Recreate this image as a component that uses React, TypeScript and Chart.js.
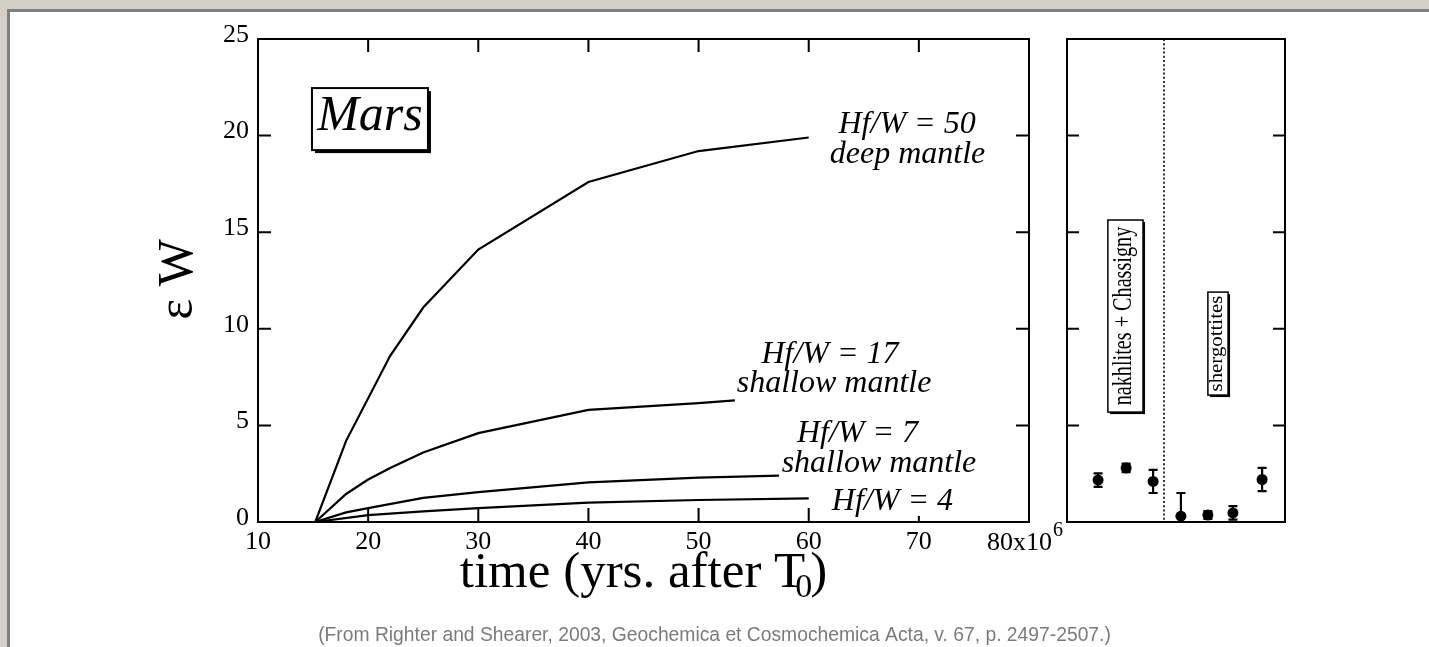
import React, { useEffect, useRef } from 'react';
import { Chart, registerables } from 'chart.js';

Chart.register(...registerables);

const W = 1429;
const H = 647;
const INK = '#000';
const SERIF = '"Liberation Serif", "Times New Roman", Times, serif';
const SANS = '"Liberation Sans", Arial, Helvetica, sans-serif';

// ---------------- main panel data ----------------
const timeTicks = [10, 20, 30, 40, 50, 60, 70, 80];
const epsTicks = [0, 5, 10, 15, 20, 25];

const hf50Time = [15.2, 18, 22, 25, 30, 40, 50, 60];
const hf50Eps = [0, 4.2, 8.6, 11.1, 14.1, 17.6, 19.2, 19.9];

const hf17Time = [15.2, 18, 20, 22, 25, 30, 40, 50, 53.3];
const hf17Eps = [0, 1.45, 2.2, 2.8, 3.6, 4.6, 5.8, 6.15, 6.3];

const hf7Time = [15.2, 18, 20, 25, 30, 40, 50, 57.3];
const hf7Eps = [0, 0.5, 0.72, 1.25, 1.55, 2.05, 2.3, 2.4];

const hf4Time = [15.2, 20, 25, 30, 40, 50, 60];
const hf4Eps = [0, 0.36, 0.55, 0.72, 1.0, 1.14, 1.22];

const curveLabelTexts = ['Hf/W = 50', 'deep mantle', 'Hf/W = 17', 'shallow mantle', 'Hf/W = 7', 'shallow mantle', 'Hf/W = 4'];
const planetName = 'Mars';
const footerText = '(From Righter and Shearer, 2003, Geochemica et Cosmochemica Acta, v. 67, p. 2497-2507.)';

// ---------------- right panel data ----------------
const meteoriteSlot = [1.14, 2.17, 3.16, 4.18, 5.17, 6.09, 7.16];
const meteoriteEps = [2.17, 2.8, 2.1, 0.3, 0.36, 0.47, 2.2];
const meteoriteErr = [0.35, 0.22, 0.6, 1.2, 0.2, 0.35, 0.6];
const groupDivider = 3.56;
const groupNames = ['nakhlites + Chassigny', 'shergottites'];

// ---------------- layout (annotation placement, in data units) ----------------
const curveLabelPos = [
  { x: 68.93, y: 20.13, bg: false },
  { x: 68.97, y: 18.58, bg: false },
  { x: 61.93, y: 8.23, bg: false },
  { x: 62.3, y: 6.73, bg: false },
  { x: 64.43, y: 4.14, bg: false },
  { x: 66.38, y: 2.59, bg: false },
  { x: 67.6, y: 0.62, bg: true },
];
const marsBox = { x1: 14.9, x2: 25.43, yTop: 22.46, yBottom: 19.25, baseline: 20.29 };
const groupBoxes = [
  { x1: 1.5, x2: 2.79, yTop: 15.63, yBottom: 5.69, font: 28 },
  { x1: 5.17, x2: 5.91, yTop: 11.9, yBottom: 6.57, font: 19 },
];

function shadowBox(ctx: CanvasRenderingContext2D, l: number, t: number, r: number, b: number, lw: number, sh: number) {
  ctx.save();
  ctx.fillStyle = '#fff';
  ctx.fillRect(l, t, r - l, b - t);
  ctx.strokeStyle = INK;
  ctx.lineWidth = lw;
  ctx.strokeRect(l, t, r - l, b - t);
  ctx.fillStyle = INK;
  ctx.fillRect(l + sh, b, r - l, sh);
  ctx.fillRect(r, t + sh, sh, b - t);
  ctx.restore();
}

const mainDecor = {
  id: 'mainDecor',
  afterDraw(chart: any) {
    const { ctx, chartArea: a } = chart;
    const xs = chart.scales.x;
    const ys = chart.scales.y;
    ctx.save();
    ctx.strokeStyle = INK;
    ctx.lineWidth = 2;
    ctx.strokeRect(a.left, a.top, a.right - a.left, a.bottom - a.top);
    ctx.beginPath();
    for (const v of epsTicks) {
      if (v <= 0 || v >= 25) continue;
      const py = ys.getPixelForValue(v);
      ctx.moveTo(a.left, py);
      ctx.lineTo(a.left + 13, py);
      ctx.moveTo(a.right, py);
      ctx.lineTo(a.right - 13, py);
    }
    for (const v of timeTicks) {
      if (v <= 10 || v >= 80) continue;
      const px = xs.getPixelForValue(v);
      ctx.moveTo(px, a.bottom);
      ctx.lineTo(px, a.bottom - 14);
      ctx.moveTo(px, a.top);
      ctx.lineTo(px, a.top + 13);
    }
    ctx.stroke();

    // 80x10^6 label
    const p80 = xs.getPixelForValue(80);
    ctx.fillStyle = INK;
    ctx.textBaseline = 'alphabetic';
    ctx.font = `26px ${SERIF}`;
    ctx.textAlign = 'right';
    ctx.fillText('80x10', p80 + 23, a.bottom + 28);
    ctx.font = `20px ${SERIF}`;
    ctx.textAlign = 'left';
    ctx.fillText('6', p80 + 24, a.bottom + 14);

    // curve labels
    ctx.font = `italic 32px ${SERIF}`;
    ctx.textAlign = 'center';
    curveLabelTexts.forEach((t, i) => {
      const p = curveLabelPos[i];
      const px = xs.getPixelForValue(p.x);
      const py = ys.getPixelForValue(p.y);
      if (p.bg) {
        const w = ctx.measureText(t).width;
        ctx.fillStyle = '#fff';
        ctx.fillRect(px - w / 2 - 2, py - 24, w + 4, 30);
        ctx.fillStyle = INK;
      }
      ctx.fillText(t, px, py);
    });

    // Mars box
    const l = xs.getPixelForValue(marsBox.x1);
    const r = xs.getPixelForValue(marsBox.x2);
    const t = ys.getPixelForValue(marsBox.yTop);
    const b = ys.getPixelForValue(marsBox.yBottom);
    shadowBox(ctx, l, t, r, b, 2, 3);
    ctx.fillStyle = INK;
    ctx.font = `italic 50px ${SERIF}`;
    ctx.textAlign = 'center';
    ctx.fillText(planetName, (l + r) / 2, ys.getPixelForValue(marsBox.baseline));

    // x title with subscript
    const s1 = 'time (yrs. after T';
    const s3 = ')';
    const mainFont = `51px ${SERIF}`;
    const subFont = `34px ${SERIF}`;
    ctx.font = mainFont;
    const w1 = ctx.measureText(s1).width;
    const w3 = ctx.measureText(s3).width;
    ctx.font = subFont;
    const w2 = ctx.measureText('0').width;
    const kern = -10;
    const kern2 = -2;
    const total = w1 + kern + w2 + kern2 + w3;
    const sx = (a.left + a.right) / 2 - total / 2;
    const base = a.bottom + 65;
    ctx.textAlign = 'left';
    ctx.font = mainFont;
    ctx.fillText(s1, sx, base);
    ctx.font = subFont;
    ctx.fillText('0', sx + w1 + kern, base + 10);
    ctx.font = mainFont;
    ctx.fillText(s3, sx + w1 + kern + w2 + kern2, base);

    // y title
    ctx.save();
    ctx.translate(192, (a.top + a.bottom) / 2 - 1);
    ctx.rotate(-Math.PI / 2);
    ctx.font = `50px ${SERIF}`;
    ctx.textAlign = 'center';
    ctx.fillText('\u03b5 W', 0, 0);
    ctx.restore();

    // footer
    ctx.font = `19.3px ${SANS}`;
    ctx.fillStyle = '#7b7b7b';
    ctx.textAlign = 'center';
    ctx.fillText(footerText, W / 2, 641);
    ctx.restore();
  },
};

const rightDecor = {
  id: 'rightDecor',
  beforeDatasetsDraw(chart: any) {
    const { ctx, chartArea: a } = chart;
    const xs = chart.scales.x;
    const ys = chart.scales.y;
    ctx.save();
    ctx.beginPath();
    ctx.rect(a.left, a.top, a.right - a.left, a.bottom - a.top);
    ctx.clip();
    const dx = xs.getPixelForValue(groupDivider);
    ctx.setLineDash([2, 2.2]);
    ctx.strokeStyle = '#333';
    ctx.lineWidth = 2;
    ctx.beginPath();
    ctx.moveTo(dx, a.top);
    ctx.lineTo(dx, a.bottom);
    ctx.stroke();
    ctx.setLineDash([]);
    ctx.strokeStyle = INK;
    ctx.lineWidth = 2.2;
    meteoriteSlot.forEach((s, i) => {
      const px = xs.getPixelForValue(s);
      const top = ys.getPixelForValue(meteoriteEps[i] + meteoriteErr[i]);
      const bot = ys.getPixelForValue(meteoriteEps[i] - meteoriteErr[i]);
      ctx.beginPath();
      ctx.moveTo(px, top);
      ctx.lineTo(px, bot);
      ctx.moveTo(px - 4.5, top);
      ctx.lineTo(px + 4.5, top);
      ctx.moveTo(px - 4.5, bot);
      ctx.lineTo(px + 4.5, bot);
      ctx.stroke();
    });
    ctx.restore();
  },
  afterDraw(chart: any) {
    const { ctx, chartArea: a } = chart;
    const xs = chart.scales.x;
    const ys = chart.scales.y;
    ctx.save();
    ctx.strokeStyle = INK;
    ctx.lineWidth = 2;
    ctx.strokeRect(a.left, a.top, a.right - a.left, a.bottom - a.top);
    ctx.beginPath();
    for (const v of epsTicks) {
      if (v <= 0 || v >= 25) continue;
      const py = ys.getPixelForValue(v);
      ctx.moveTo(a.left, py);
      ctx.lineTo(a.left + 12, py);
      ctx.moveTo(a.right, py);
      ctx.lineTo(a.right - 12, py);
    }
    ctx.stroke();

    groupBoxes.forEach((g, i) => {
      const l = xs.getPixelForValue(g.x1);
      const r = xs.getPixelForValue(g.x2);
      const t = ys.getPixelForValue(g.yTop);
      const b = ys.getPixelForValue(g.yBottom);
      shadowBox(ctx, l, t, r, b, 1.5, 2);
      ctx.save();
      ctx.translate((l + r) / 2, (t + b) / 2);
      ctx.rotate(-Math.PI / 2);
      ctx.font = `${g.font}px ${SERIF}`;
      const w = ctx.measureText(groupNames[i]).width;
      const target = (b - t) * 0.93;
      ctx.scale(target / w, 1);
      ctx.fillStyle = INK;
      ctx.textAlign = 'center';
      ctx.textBaseline = 'alphabetic';
      ctx.fillText(groupNames[i], 0, g.font * 0.2);
      ctx.restore();
    });
    ctx.restore();
  },
};

function line(xs: number[], ys: number[]) {
  return {
    data: xs.map((x, i) => ({ x, y: ys[i] })),
    showLine: true,
    borderColor: INK,
    borderWidth: 2.2,
    pointRadius: 0,
    tension: 0,
    fill: false,
  };
}

export default function App() {
  const mainRef = useRef<HTMLCanvasElement | null>(null);
  const sideRef = useRef<HTMLCanvasElement | null>(null);

  useEffect(() => {
    const tickFont = { family: SERIF, size: 26 };
    const main = new Chart(mainRef.current as HTMLCanvasElement, {
      type: 'scatter',
      data: {
        datasets: [
          line(hf50Time, hf50Eps),
          line(hf17Time, hf17Eps),
          line(hf7Time, hf7Eps),
          line(hf4Time, hf4Eps),
        ],
      } as any,
      options: {
        responsive: false,
        animation: false,
        layout: { padding: { left: 0, top: 39, right: W - 1029, bottom: 0 } },
        plugins: { legend: { display: false }, tooltip: { enabled: false } },
        scales: {
          x: {
            type: 'linear',
            min: timeTicks[0],
            max: timeTicks[timeTicks.length - 1],
            ticks: {
              stepSize: 10,
              autoSkip: false,
              maxRotation: 0,
              color: INK,
              font: tickFont,
              padding: 5,
              callback: (v: any) => (v === 80 ? '' : String(v)),
            },
            grid: { display: false, drawTicks: false },
            border: { display: false },
            afterFit: (s: any) => {
              s.height = H - 522;
            },
          },
          y: {
            min: epsTicks[0],
            max: epsTicks[epsTicks.length - 1],
            ticks: { stepSize: 5, color: INK, font: tickFont, padding: 9, labelOffset: -4 },
            grid: { display: false, drawTicks: false },
            border: { display: false },
            afterFit: (s: any) => {
              s.width = 258;
            },
          },
        },
      } as any,
      plugins: [mainDecor],
    });

    const side = new Chart(sideRef.current as HTMLCanvasElement, {
      type: 'scatter',
      data: {
        datasets: [
          {
            data: meteoriteSlot.map((x, i) => ({ x, y: meteoriteEps[i] })),
            pointRadius: 5.5,
            pointBackgroundColor: INK,
            pointBorderColor: INK,
            pointBorderWidth: 0,
            showLine: false,
          },
        ],
      } as any,
      options: {
        responsive: false,
        animation: false,
        layout: { padding: { left: 1067, top: 39, right: W - 1285, bottom: H - 522 } },
        plugins: { legend: { display: false }, tooltip: { enabled: false } },
        scales: {
          x: { type: 'linear', display: false, min: 0, max: 8 },
          y: { display: false, min: 0, max: 25 },
        },
      } as any,
      plugins: [rightDecor],
    });

    return () => {
      main.destroy();
      side.destroy();
    };
  }, []);

  return (
    <div style={{ position: 'fixed', left: 0, top: 0, width: W, height: H, background: '#d4d0c8', overflow: 'hidden' }}>
      <div
        style={{
          position: 'absolute',
          left: 7,
          top: 9,
          right: 0,
          bottom: 0,
          background: '#fff',
          borderLeft: '3px solid #808080',
          borderTop: '3px solid #808080',
        }}
      />
      <canvas ref={mainRef} width={W} height={H} style={{ position: 'absolute', left: 0, top: 0, width: W, height: H }} />
      <canvas ref={sideRef} width={W} height={H} style={{ position: 'absolute', left: 0, top: 0, width: W, height: H }} />
    </div>
  );
}
